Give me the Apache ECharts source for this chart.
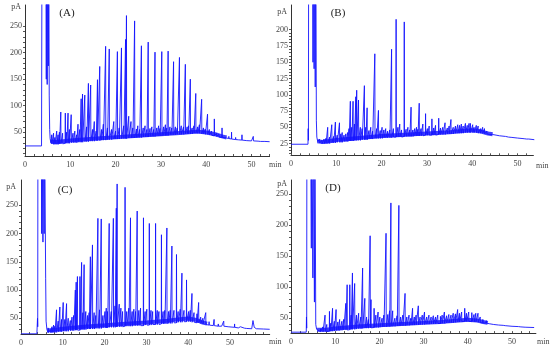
<!DOCTYPE html>
<html><head><meta charset="utf-8">
<script src="https://cdn.jsdelivr.net/npm/echarts@6/dist/echarts.min.js"></script>
<style>html,body{margin:0;padding:0;background:#fff}#c{width:550px;height:350px}</style>
</head><body><div id="c"></div>
<script>
// ---------- tick labels ----------
const xTickLabels = [0, 10, 20, 30, 40, 50];
const yLabelsA = [50, 100, 150, 200, 250];
const yLabelsB = [25, 50, 75, 100, 125, 150, 175, 200];
const yLabelsC = [50, 100, 150, 200, 250];
const yLabelsD = [50, 100, 150, 200, 250];
const panelNames = ['(A)', '(B)', '(C)', '(D)'];

// ---------- panel A ----------
const baseA = [[0,24],[3.65,24],[3.7,24],[3.75,400],[4.6,400],[4.7,150],[4.8,400],[4.9,140],[5.0,400],[5.15,175],[5.25,400],[5.35,120],[5.45,55],[5.55,38],[5.7,30],[6,28],[7,27],[8,28],[10,30],[12,31],[15,33],[20,36],[25,39],[30,42],[35,45],[38,47],[40,46],[42,43],[44,40],[46,37],[48,35],[50,33.5],[52,32.5],[54,32]];
const bandA = [[5.7,32],[7,31.5],[10,34.5],[15,37.5],[20,40.5],[25,43],[30,46],[35,49],[38,51],[40,49.5],[42,46],[43.5,42],[44.5,40]];
const peaksA = [[5.9,28,45],[6.3,27,48],[6.6,27,40],[7.0,27,52],[7.3,27,45],[7.6,28,50],[7.9,28,88],[8.3,28,48],[8.9,29,86],[9.2,29,50],[9.5,29,86],[9.8,29,55],[10.2,30,83],[10.6,30,48],[11.0,30,52],[11.4,30,45],[11.7,31,65],[12.1,31,55],
[12.4,31,113],[12.7,31,122],[13.2,32,120],[13.6,32,60],[14.0,32,142],[14.5,33,139],[14.9,33,55],[15.3,33,70],[15.7,34,52],[16.0,34,149],[16.5,34,174],[16.9,35,55],[17.3,35,65],[17.8,35,212],[18.2,36,58],[18.6,36,207],[19.1,36,55],[19.6,37,70],[20.0,37,52],[20.4,37,202],[20.8,37,58],[21.3,38,209],[21.8,38,62],[22.2,38,225],[22.4,38,270],[22.9,39,80],[23.4,39,70],[23.8,39,58],[24.2,39,260],[24.6,40,56],[24.9,40,62],[25.3,40,55],[25.7,40,213],[26.1,41,58],[26.5,41,62],[26.9,41,55],[27.2,41,220],[27.6,42,57],[28.0,42,60],[28.4,42,55],[28.7,42,201],[29.1,43,58],[29.5,43,62],[29.8,43,57],[30.2,43,202],[30.6,44,60],[31.0,44,64],[31.3,44,58],[31.6,44,203],[32.0,45,60],[32.4,45,58],[32.8,45,183],[33.2,45,60],[33.6,46,58],[34.1,46,191],[34.5,46,62],[35.0,46,60],[35.4,47,178],[35.8,47,60],[36.1,47,62],[36.5,47,150],[36.9,47,58],[37.3,48,62],[37.7,48,123],[38.1,48,60],[38.5,48,64],[39.0,47,112],[39.4,47,58],[39.8,46,56],[40.3,46,84],[40.7,45,55],[41.2,44,52],[41.8,43,75],[42.3,42,48],[42.8,41,46],[43.5,40,58],[44.2,39,43],[45.0,38,42],[45.6,37,50],[46.5,36,40],[47.2,35.5,39],[47.9,35,45],[49.0,34,37],[50.4,33.5,42],[51.5,33,35],[53,32.5,34]];

// ---------- panel B ----------
const baseB = [[0,24],[3.75,24],[3.8,48],[3.85,30],[3.9,400],[4.75,400],[4.85,150],[4.95,400],[5.1,140],[5.2,400],[5.35,112],[5.45,400],[5.6,60],[5.7,35],[5.9,28],[6,26],[7,24.5],[8,25],[10,27],[12,28],[15,30],[20,33],[25,35],[30,37],[35,39],[38,41],[40,42],[42,41],[44,39],[46,37],[48,35],[50,33.5],[52,32],[53.7,31]];
const bandB = [[5.8,28.5],[7,27.5],[10,30.5],[15,33.5],[20,36.5],[25,38.5],[30,40.5],[35,42.5],[38,44.5],[40,45.5],[42,43.5],[43.5,40.5],[44.5,39.5]];
const peaksB = [[6.3,26,32],[6.8,25,30],[7.3,25,32],[7.7,25,33],[8.1,25,50],[8.5,25,35],[9.0,26,54],[9.4,26,36],[9.8,26,58],[10.2,27,38],[10.7,27,57],[11.0,27,40],[11.3,27,42],[11.7,28,38],[12.1,28,40],[12.5,28,42],[12.8,29,48],[13.1,29,90],[13.4,29,50],[13.7,29,90],[14.0,30,55],[14.3,30,97],[14.5,30,107],[14.9,30,92],[15.3,30,50],[15.7,31,48],[16.2,31,114],[16.5,31,50],[16.8,31,80],[17.2,32,45],[17.6,32,50],[18.0,32,44],[18.5,33,163],[18.9,33,48],[19.3,33,76],[19.7,33,45],[20.1,33,50],[20.5,34,46],[20.9,34,48],[21.3,34,44],[21.8,34,46],[22.2,34,170],[22.6,35,48],[23.2,35,216],[23.6,35,50],[24.0,35,55],[24.4,35,46],[25.0,36,212],[25.4,36,47],[25.8,36,50],[26.2,36,46],[26.5,36,81],[26.9,36,46],[27.3,37,48],[27.7,37,50],[28.0,37,47],[28.3,37,87],[28.7,37,48],[29.1,37,55],[29.7,38,71],[30.1,38,48],[30.5,38,52],[31.1,38,63],[31.5,38,49],[31.9,38,53],[32.6,39,64],[33.0,39,49],[33.5,39,50],[34.0,39,57],[34.5,40,49],[34.9,40,52],[35.3,40,62],[35.8,40,50],[36.3,41,52],[36.8,41,54],[37.2,41,53],[37.6,41,55],[38.0,41,52],[38.5,42,56],[38.9,42,53],[39.3,42,56],[39.6,42,56],[40.1,42,54],[40.4,42,50],[40.9,42,53],[41.3,41,52],[41.8,41,48],[42.3,41,50],[42.7,40,48],[43.2,40,44],[43.8,39,42],[44.5,39,41],[45.3,38,40],[46.2,37,38.5],[47.4,36,38],[48.8,34.5,36],[50.1,33.5,35],[51.5,32.5,34],[52.5,32,33]];

// ---------- panel C ----------
const baseC = [[0,22.5],[3.8,22.5],[3.9,23],[3.95,50],[4.0,35],[4.05,400],[4.85,400],[4.95,200],[5.05,400],[5.25,185],[5.35,400],[5.55,200],[5.65,400],[5.9,120],[6.0,45],[6.2,30],[6.6,25],[7,24.5],[8,25],[10,27],[12,28.5],[15,30],[20,32],[25,35],[30,37],[35,40],[38,43],[40,44],[42,42],[44,39],[46,37],[48,36],[50,34],[52,33],[54,32],[55.2,31.5],[55.5,46],[55.8,34],[56.3,31.5],[58,31],[59.5,30.5]];
const bandC = [[6.3,28.5],[8,29.5],[10,31.5],[15,35],[20,37.5],[25,40.5],[30,42.5],[35,45.5],[38,48.5],[40,49.5],[42,47],[43.5,42.5],[44.5,40.5]];
const peaksC = [[6.5,25,33],[7.1,24.5,30],[7.4,24.5,35],[7.8,25,38],[8.1,25,36],[8.5,25,65],[8.9,26,45],[9.3,26,70],[9.7,26,48],[10.1,27,78],[10.5,27,48],[10.9,27,76],[11.3,27,50],[11.8,28,46],[12.2,28,52],[12.6,28,55],[13.0,29,100],[13.2,29,114],[13.5,29,124],[14.1,29,124],[14.5,30,149],[14.8,30,60],[15.1,30,145],[15.5,30,62],[15.9,31,55],[16.3,31,60],[16.6,31,159],[17.1,31,180],[17.5,31,60],[17.9,32,55],[18.4,32,227],[18.8,32,65],[19.2,32,226],[19.6,33,55],[20.1,33,62],[20.4,33,68],[20.7,33,62],[21.1,34,218],[21.6,34,62],[22.1,34,227],[22.5,34,72],[22.8,35,245],[23.0,35,288],[23.5,35,75],[23.9,35,68],[24.3,35,62],[24.9,36,282],[25.3,36,62],[25.8,36,68],[26.2,36,228],[26.6,36,62],[27.0,37,66],[27.4,37,62],[27.8,37,240],[28.2,37,64],[28.6,37,68],[29.3,37,228],[29.7,38,62],[30.1,38,66],[30.7,38,218],[31.1,38,64],[31.5,39,62],[32.2,39,218],[32.6,39,64],[33.0,39,62],[33.6,40,198],[34.0,40,62],[34.4,40,64],[34.9,40,210],[35.3,41,62],[35.7,41,64],[36.1,41,178],[36.6,42,64],[37.2,42,163],[37.6,43,62],[38.1,43,66],[38.5,43,130],[39.0,44,64],[39.6,44,118],[40.1,44,62],[40.5,44,64],[40.9,43,94],[41.4,43,60],[42.1,42,58],[42.5,42,78],[43.0,41,52],[43.5,40,50],[44.2,39,60],[45.0,38,44],[46.2,37,48],[47.2,36,40],[48.5,36,45],[49.6,35,38],[51.1,34,40],[52.5,33,35],[53.5,32.5,34]];

// ---------- panel D ----------
const baseD = [[0,27.5],[3.45,27.5],[3.5,52],[3.55,34],[3.6,400],[4.4,400],[4.6,163],[4.7,400],[4.95,115],[5.05,400],[5.3,76],[5.4,400],[5.6,40],[5.8,32],[6.3,29],[7,28],[8,28.5],[10,30],[12,31],[15,33],[20,35],[25,37],[30,39],[35,41.5],[38,44],[40,45],[42,44],[44,42],[46,40],[48,38.5],[50,37],[52,36],[55,35]];
const bandD = [[5.9,31.5],[8,31.5],[10,33.5],[15,36.5],[20,38.5],[25,40.5],[30,42.5],[35,44.5],[38,46.5],[40,47.5],[42,46.5],[43.5,44],[44.5,42.5]];
const peaksD = [[6.2,29,34],[6.7,28.5,33],[7.2,28,36],[7.7,28.5,55],[8.1,28.5,40],[8.7,29,61],[9.0,29,42],[9.4,29,66],[9.8,29.5,45],[10.2,30,64],[10.6,30,44],[11.0,30,48],[11.5,30.5,45],[11.9,31,48],[12.4,31,74],[12.7,31,104],[13.3,31.5,104],[13.6,32,55],[13.9,32,123],[14.4,32,106],[14.8,32.5,55],[15.3,33,58],[15.8,33,52],[16.2,33.5,131],[16.7,34,82],[17.1,34,52],[17.5,34,48],[17.9,34.5,183],[18.1,34.5,80],[18.8,35,66],[19.2,35,55],[19.7,35,60],[20.1,35.5,52],[20.6,36,50],[21.0,36,55],[21.5,36,187],[21.9,36.5,56],[22.3,36.5,62],[22.6,37,236],[23.0,37,62],[23.5,37,50],[24.0,37.5,54],[24.4,37.5,232],[24.8,38,52],[25.3,38,55],[25.8,38,90],[26.2,38.5,52],[26.7,38.5,55],[27.1,39,50],[27.5,39,66],[27.9,39,52],[28.3,39.5,55],[28.8,39.5,70],[29.2,40,52],[29.7,40,55],[30.2,40,60],[30.7,40.5,52],[31.2,40.5,55],[31.7,41,52],[32.2,41,54],[32.7,41,52],[33.2,41.5,55],[33.8,41.5,53],[34.2,42,55],[34.7,42,60],[35.2,42.5,54],[35.7,42.5,56],[36.2,43,55],[36.7,43,58],[37.2,43.5,57],[37.7,44,64],[38.1,44,58],[38.6,44.5,60],[39.3,45,66],[39.7,45,58],[40.2,45,60],[40.9,44.5,59],[41.4,44,56],[41.8,44,58],[42.3,43.5,58],[42.8,43,52],[43.4,42.5,48],[44.2,42,46],[45.0,41,44],[45.8,40,42],[47.0,39,40.5],[48.5,38,40],[50.1,37,38.5],[51.5,36.5,38],[53,35.5,36.5]];

// ---------- build ----------
function buildTrace(base, peaks) {
  const pts = base.map(p => [p[0], p[1]]);
  peaks.forEach(p => { pts.push([p[0] - 0.04, p[1]], [p[0], p[2]], [p[0] + 0.04, p[1]]); });
  pts.sort((a, b) => a[0] - b[0]);
  return pts;
}

const FONT = 'Liberation Serif';
const BLUE = '#1414ff';
const panels = [
  {grid:{left:25, top:5, width:244.6, height:151}, x:[0,54], y:[5,290], labels:yLabelsA, minor:10, base:baseA, band:bandA, peaks:peaksA,
   pA:[21,7], min:[269,165], name:[67,13]},
  {grid:{left:291, top:5, width:242.4, height:150.3}, x:[0,53.5], y:[7,238], labels:yLabelsB, minor:5, base:baseB, band:bandB, peaks:peaksB,
   pA:[287,12], min:[536,166], name:[338,13]},
  {grid:{left:21, top:180, width:248.7, height:154.1}, x:[0,59.5], y:[22,295], labels:yLabelsC, minor:10, base:baseC, band:bandC, peaks:peaksC,
   pA:[16,187], min:[269,342], name:[65,190]},
  {grid:{left:291, top:180, width:244.9, height:153.1}, x:[0,55.4], y:[26,273], labels:yLabelsD, minor:10, base:baseD, band:bandD, peaks:peaksD,
   pA:[287,184], min:[537,342], name:[333,188]}
];

const grids = [], xAxes = [], yAxes = [], series = [], graphics = [];
panels.forEach((p, i) => {
  grids.push(p.grid);
  const xt = [];
  for (let v = 0; v <= p.x[1]; v += 2) xt.push(v);
  const yt = [];
  for (let v = Math.ceil(p.y[0] / p.minor) * p.minor; v <= p.labels[p.labels.length - 1]; v += p.minor) yt.push(v);
  xAxes.push({
    type:'value', gridIndex:i, min:p.x[0], max:p.x[1],
    axisLine:{show:true, onZero:false, lineStyle:{color:'#333', width:1}},
    axisTick:{show:true, inside:true, length:2, customValues:xt, lineStyle:{color:'#555'}},
    axisLabel:{show:true, customValues:xTickLabels, fontFamily:FONT, fontSize:8, color:'#444', margin:5},
    splitLine:{show:false}
  });
  yAxes.push({
    type:'value', gridIndex:i, min:p.y[0], max:p.y[1],
    axisLine:{show:true, onZero:false, lineStyle:{color:'#333', width:1}},
    axisTick:{show:true, length:2, customValues:yt, lineStyle:{color:'#555'}},
    axisLabel:{show:true, customValues:p.labels, fontFamily:FONT, fontSize:8, color:'#444', margin:3},
    splitLine:{show:false}
  });
  series.push({
    type:'line', xAxisIndex:i, yAxisIndex:i, data:p.band, symbol:'none', silent:true, animation:false,
    lineStyle:{color:BLUE, width:4, opacity:0.8}, z:1
  });
  series.push({
    type:'line', xAxisIndex:i, yAxisIndex:i, data:buildTrace(p.base, p.peaks), symbol:'none', silent:true,
    animation:false, clip:true, sampling:null, lineStyle:{color:BLUE, width:0.9}, z:2
  });
  graphics.push({type:'text', x:p.pA[0], y:p.pA[1], style:{text:'pA', font:'8px "Liberation Serif"', fill:'#444', align:'right', verticalAlign:'middle'}});
  graphics.push({type:'text', x:p.min[0], y:p.min[1], style:{text:'min', font:'8px "Liberation Serif"', fill:'#444', align:'left', verticalAlign:'middle'}});
  graphics.push({type:'text', x:p.name[0], y:p.name[1], style:{text:panelNames[i], font:'11px "Liberation Serif"', fill:'#222', align:'center', verticalAlign:'middle'}});
});

const chart = echarts.init(document.getElementById('c'), null, {renderer:'canvas'});
chart.setOption({
  animation:false,
  backgroundColor:'#fff',
  grid:grids, xAxis:xAxes, yAxis:yAxes, series:series,
  graphic:{elements:graphics}
});
</script>
</body></html>
